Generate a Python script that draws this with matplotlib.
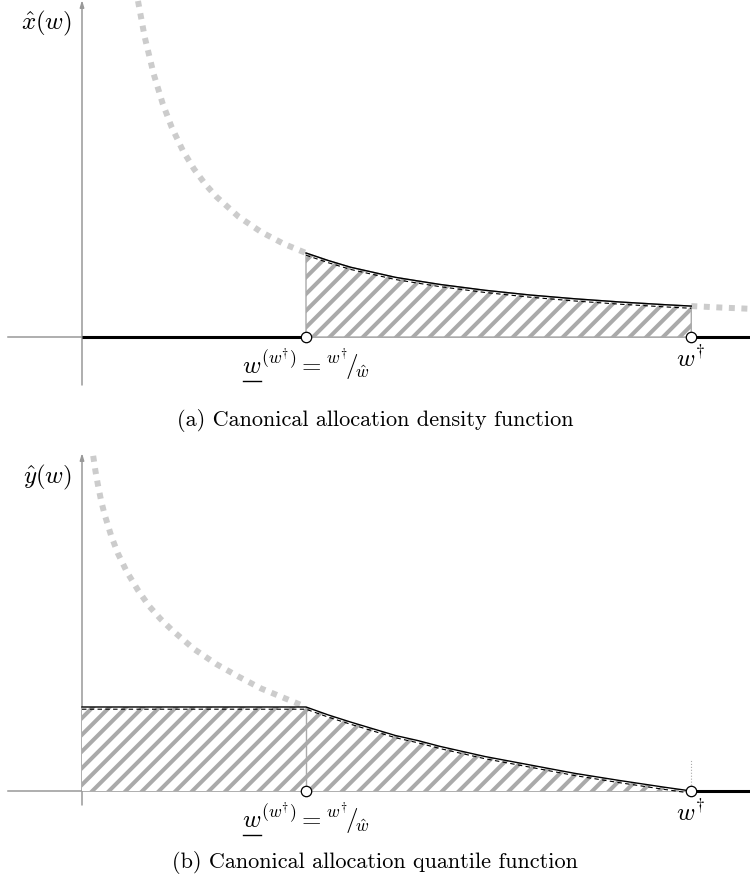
import matplotlib
matplotlib.use("Agg")
import matplotlib.pyplot as plt
from matplotlib.lines import Line2D

plt.rcParams['mathtext.fontset'] = 'cm'
plt.rcParams['hatch.linewidth'] = 2.9

# break points on the w axis
w_lower = 1.0
w_dagger = 2.72

# density x_hat(w): dashed (outside support) and solid (on support)
dens_w_left = [0.25, 0.28, 0.32, 0.36, 0.4, 0.45, 0.5, 0.55, 0.6, 0.7, 0.8, 0.9, 1.0]
dens_v_left = [4.0, 3.57, 3.13, 2.78, 2.5, 2.22, 2.0, 1.82, 1.67, 1.43, 1.25, 1.11, 1.0]
dens_w_mid = [1.0, 1.1, 1.2, 1.3, 1.4, 1.5, 1.6, 1.8, 2.0, 2.2, 2.4, 2.6, 2.72]
dens_v_mid = [1.0, 0.91, 0.83, 0.77, 0.71, 0.667, 0.625, 0.556, 0.5, 0.455, 0.417, 0.385, 0.368]
dens_w_right = [2.72, 2.85, 2.98]
dens_v_right = [0.368, 0.351, 0.336]

# quantile y_hat(w)
quan_w_left = [0.05, 0.06, 0.07, 0.085, 0.1, 0.13, 0.16, 0.2, 0.25, 0.3, 0.35, 0.4, 0.5, 0.6, 0.7, 0.8, 0.9, 1.0]
quan_v_left = [3.99, 3.81, 3.66, 3.46, 3.30, 3.04, 2.83, 2.61, 2.39, 2.20, 2.05, 1.92, 1.69, 1.51, 1.36, 1.22, 1.11, 1.0]
quan_w_mid = [0.0, 1.0, 1.1, 1.2, 1.3, 1.4, 1.5, 1.6, 1.8, 2.0, 2.2, 2.4, 2.6, 2.72]
quan_v_mid = [1.0, 1.0, 0.905, 0.82, 0.74, 0.66, 0.60, 0.53, 0.41, 0.31, 0.21, 0.125, 0.045, 0.0]

W, H = 750, 892
PX = 224.0   # pixels per w unit
PY = 84.0    # pixels per value unit
X0 = 82      # pixel column of w = 0

fig = plt.figure(figsize=(W / 100, H / 100), dpi=100)

def make_axes(top_px, bot_px, axis_px):
    ax = fig.add_axes([0, (H - bot_px) / H, 1, (bot_px - top_px) / H])
    ax.set_xlim(-X0 / PX, (W - X0) / PX)
    ax.set_ylim((axis_px - bot_px) / PY, (axis_px - top_px) / PY)
    ax.axis('off')
    return ax

grey_dash = dict(color='#cccccc', lw=4.3, dashes=(1.0, 1.1), solid_capstyle='butt')
axis_col = '#999999'
xl = (8 - X0) / PX
xr = (W - X0) / PX

def draw_axes(ax, ybot, ytop):
    ax.plot([xl, xr], [0, 0], color=axis_col, lw=1.1, zorder=1)
    ax.annotate('', xy=(0, ytop), xytext=(0, ybot),
                arrowprops=dict(arrowstyle='-|>,head_length=0.4,head_width=0.12',
                                color=axis_col, lw=1.1, shrinkA=0, shrinkB=0), zorder=1)

def circles(ax):
    ax.plot([w_lower, w_dagger], [0, 0], 'o', ms=7.5, mfc='white', mec='black', mew=0.9, zorder=6)

lower_label = r'$w^{(w^{\dagger})} = {}^{w^{\dagger}}\!/\!{}_{\hat{w}}$'
under_texts = []

off = 2.2 / PY

def labels(ax):
    under_texts.append(ax.text(w_lower, -9 / PY, lower_label, ha='center', va='top',
                               fontsize=18, zorder=7))
    ax.text(w_dagger - 1 / PX, -9 / PY, r'$w^{\dagger}$', ha='center', va='top',
            fontsize=18, zorder=7)

# ---- (a) density
ax1 = make_axes(0, 392, 337)
draw_axes(ax1, -48 / PY, 337 / PY)
ax1.plot(dens_w_left, dens_v_left, **grey_dash, zorder=2)
ax1.plot(dens_w_right, dens_v_right, **grey_dash, zorder=2)
ax1.fill_between(dens_w_mid, 0, dens_v_mid, facecolor='white', edgecolor='#aaaaaa',
                 hatch='//', lw=1.0, zorder=3)
ax1.plot(dens_w_mid, dens_v_mid, color='black', lw=1.0, zorder=4)
ax1.plot(dens_w_mid, [v - off for v in dens_v_mid], color='black', lw=0.8,
         dashes=(4, 3), zorder=4)
ax1.plot([0, w_lower], [0, 0], color='black', lw=2.2, zorder=5, solid_capstyle='butt')
ax1.plot([w_dagger, xr], [0, 0], color='black', lw=2.2, zorder=5, solid_capstyle='butt')
circles(ax1)
ax1.text(-10 / PX, (337 - 23) / PY, r'$\hat{x}(w)$', ha='right', va='center', fontsize=18)
labels(ax1)

# ---- (b) quantile
ax2 = make_axes(440, 840, 791)
draw_axes(ax2, -14 / PY, 338 / PY)
ax2.plot(quan_w_left, quan_v_left, **grey_dash, zorder=2)
ax2.fill_between(quan_w_mid, 0, quan_v_mid, facecolor='white', edgecolor='#aaaaaa',
                 hatch='//', lw=0, zorder=3)
ax2.plot([w_lower, w_lower], [0, 1.0], color='#aaaaaa', lw=1.0, zorder=3)
ax2.plot([w_dagger, w_dagger], [0, 32 / PY], color='#aaaaaa', lw=0.8, ls=':', zorder=3)
ax2.plot(quan_w_mid, quan_v_mid, color='black', lw=1.0, zorder=4)
ax2.plot(quan_w_mid, [v - off for v in quan_v_mid], color='black', lw=0.8,
         dashes=(4, 3), zorder=4)
ax2.plot([w_dagger, xr], [0, 0], color='black', lw=2.2, zorder=5, solid_capstyle='butt')
circles(ax2)
ax2.text(-10 / PX, (791 - 477) / PY, r'$\hat{y}(w)$', ha='right', va='center', fontsize=18)
labels(ax2)

fig.text(375 / W, 1 - 421 / H, '(a) Canonical allocation density function',
         ha='center', va='center', fontsize=16, family='cmr10')
fig.text(375 / W, 1 - 862 / H, '(b) Canonical allocation quantile function',
         ha='center', va='center', fontsize=16, family='cmr10')

# mathtext has no \underline: draw it under the leading w by hand
fig.canvas.draw()
r = fig.canvas.get_renderer()
probe = fig.text(0, 0, r'$w$', fontsize=18)
ww = probe.get_window_extent(r).width
probe.remove()
for t in under_texts:
    bb = t.get_window_extent(r)
    y = bb.y0 + 1
    fig.add_artist(Line2D([(bb.x0 + 1) / W, (bb.x0 + ww) / W], [y / H, y / H],
                          color='black', lw=1.0, transform=fig.transFigure))

fig.savefig('out.png', dpi=100)
